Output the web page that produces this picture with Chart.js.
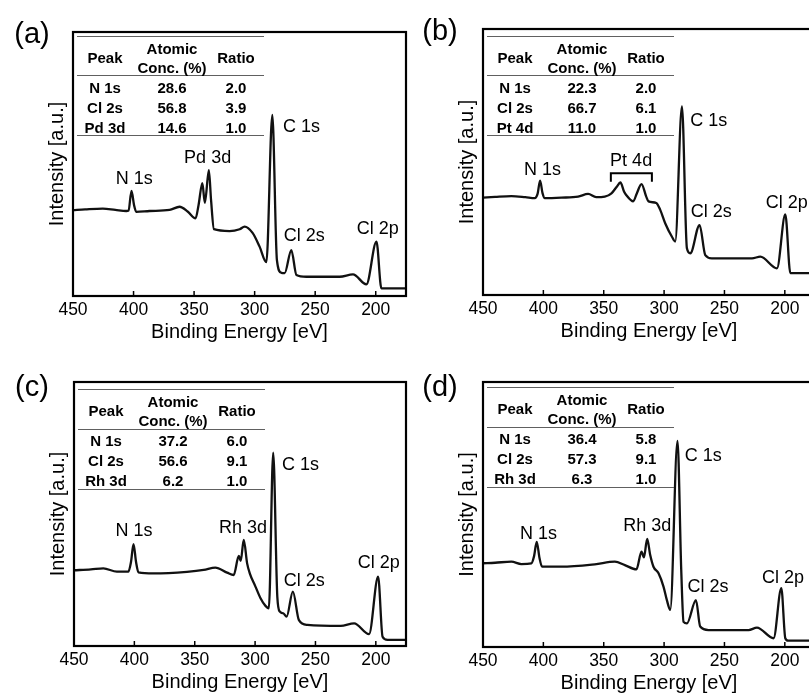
<!DOCTYPE html>
<html><head><meta charset="utf-8">
<script src="https://cdn.jsdelivr.net/npm/chart.js@4"></script>
<style>
html,body{margin:0;padding:0;background:#fff;overflow:hidden;width:809px;height:696px;}
body{position:relative;font-family:'Liberation Sans',Arial,sans-serif;color:#000;}
.panel{position:absolute;}
.lbl{position:absolute;font-size:29px;line-height:1;transform:translate(-50%,-50%);white-space:nowrap;}
.tline{position:absolute;height:0;border-top:1.5px solid #606060;}
.tt{position:absolute;font-weight:bold;font-size:15px;line-height:1;transform:translate(-50%,-50%);white-space:nowrap;}
.note{position:absolute;font-size:18px;line-height:1;transform:translate(-50%,-50%);white-space:nowrap;}
</style></head><body>
<script>
// ---------- data ----------
const xTickValues = [450, 400, 350, 300, 250, 200];

const energyA    = [450,440,425.4,415,406.0,404.1,401.7,399.6,397.8,386.8,370.2,362.0,355.1,348.8,346.3,343.2,341.1,337.8,336.0,333.6,320.7,312.4,308.3,301.7,295.9,290.3,285.4,281.6,277.9,275.2,269.7,265.5,257.3,229.7,218.8,207.7,199.4,195.3,177.4,175];
const intensityA = [32.5,32.8,33.1,32.6,32.2,32.4,39.8,34.5,31.9,32.2,32.6,33.8,31.9,29.4,34.5,42.7,35.3,47.7,36.4,25.3,24.6,25.3,26.3,23.9,18.7,12.8,68.6,13.6,8.8,8.7,17.4,8.0,7.3,7.3,8.2,4.4,20.6,2.9,2.9,2.9];

const energyB    = [450,440,426.5,415,407.1,404.8,402.7,400.7,398.8,385,371.2,362.9,356.3,349.1,343.6,339.2,336.2,333.1,331.4,325.6,322.6,318.7,314.8,312.9,306.5,303.2,299.1,293.5,290.8,285.2,281.1,278.3,270.6,265.9,260.4,227.2,220.3,206.5,199.6,195.4,180.3,175];
const intensityB = [36.6,36.9,37.2,36.8,36.4,38.0,43.0,38.3,36.4,36.6,37.0,38.0,36.8,37.0,38.2,40.7,42.3,38.8,37.6,35.2,38.2,41.7,37.0,35.2,34.6,32.0,27.0,21.9,20.1,70.9,17.6,15.7,26.3,15.0,13.8,13.8,14.4,10.0,30.3,8.2,8.2,8.2];

const energyC    = [450,436,425.7,414.5,404.9,402.8,400.7,398.6,396.6,384.1,356.4,342.6,332.9,323.2,317.7,313.5,311.9,309.4,306.6,304.4,299.7,295.5,291.4,288.6,285.0,281.6,279.5,276.7,273.9,268.7,263.7,256.7,229.1,218.0,205.6,198.1,194.4,190.3,176.5,175];
const intensityC = [28.7,29.0,29.4,28.2,28.2,31.8,38.6,31.8,27.9,27.5,28.1,28.8,29.7,27.8,26.9,34.1,32.3,40.2,31.3,27.5,22.5,18.1,15.2,14.3,73.2,18.7,13.0,12.4,11.1,20.6,9.8,8.0,7.6,8.6,4.5,26.3,3.5,2.3,2.3,2.3];

const energyD    = [450,440,426.5,418.2,409.9,407.7,405.5,403.2,401.1,385.1,357.4,340.8,332.5,322.9,318.7,316.7,314.0,311.5,308.8,304.6,300.5,297.7,294.9,288.9,285.8,283.9,281.1,273.6,270.1,263.2,230.0,223.1,209.3,202.9,199.6,197.3,180.3,175];
const intensityD = [31.6,31.8,32.2,31.3,31.6,34.3,39.7,33.6,30.3,30.3,31.2,32.2,30.9,29.3,36.0,33.8,40.8,34.7,30.3,27.8,22.8,17.7,14.0,77.8,29.1,9.5,8.9,17.7,7.7,6.4,6.4,7.3,3.3,22.2,3.3,2.4,2.4,2.4];

const peaksA = ['N 1s','Cl 2s','Pd 3d'], concA = ['28.6','56.8','14.6'], ratioA = ['2.0','3.9','1.0'];
const peaksB = ['N 1s','Cl 2s','Pt 4d'], concB = ['22.3','66.7','11.0'], ratioB = ['2.0','6.1','1.0'];
const peaksC = ['N 1s','Cl 2s','Rh 3d'], concC = ['37.2','56.6','6.2'],  ratioC = ['6.0','9.1','1.0'];
const peaksD = ['N 1s','Cl 2s','Rh 3d'], concD = ['36.4','57.3','6.3'],  ratioD = ['5.8','9.1','1.0'];

// peak labels: [text, energy, intensity]
const notesA = [['N 1s',399.4,44.7],['Pd 3d',338.8,52.7],['C 1s',261.2,64.4],['Cl 2s',259.1,23.1],['Cl 2p',198.3,25.8]];
const notesB = [['N 1s',400.7,47.4],['Pt 4d',327.3,50.8],['C 1s',263.0,65.8],['Cl 2s',260.9,31.6],['Cl 2p',198.3,35.1]];
const notesC = [['N 1s',400.2,43.9],['Rh 3d',310.0,45.0],['C 1s',262.3,68.8],['Cl 2s',259.2,25.0],['Cl 2p',197.5,31.9]];
const notesD = [['N 1s',404.1,43.1],['Rh 3d',314.0,46.0],['C 1s',267.6,72.5],['Cl 2s',263.6,23.1],['Cl 2p',201.4,26.3]];
// bracket over Pt 4d: [from eV, to eV, top intensity, end intensity]
const bracketB = [344.1, 310.1, 45.8, 42.6];

// ---------- layout ----------
const FAM = "'Liberation Sans', Arial, sans-serif";
const panels = [
  {name:'(a)', lx:32,  ly:33,  e:energyA, i:intensityA, notes:notesA, box:{l:73, t:32, r:406, b:296}, tab:{x:77, t:36.7, p:peaksA, c:concA, r:ratioA}},
  {name:'(b)', lx:440, ly:30,  e:energyB, i:intensityB, notes:notesB, box:{l:483,t:29, r:815, b:295}, tab:{x:487,t:36.7, p:peaksB, c:concB, r:ratioB}, bracket:bracketB},
  {name:'(c)', lx:32,  ly:385.5,e:energyC, i:intensityC, notes:notesC, box:{l:74, t:382,r:406, b:646}, tab:{x:78, t:390, p:peaksC, c:concC, r:ratioC}},
  {name:'(d)', lx:440, ly:385.5,e:energyD, i:intensityD, notes:notesD, box:{l:483,t:382,r:815, b:647}, tab:{x:487,t:388, p:peaksD, c:concD, r:ratioD}}
];

const framePlugin = {
  id: 'frame',
  afterDraw(chart, args, opts) {
    const {ctx, chartArea: a, scales: {x, y}} = chart;
    ctx.save();
    ctx.strokeStyle = '#000';
    ctx.lineWidth = 2.2;
    ctx.strokeRect(a.left, a.top, a.right - a.left, a.bottom - a.top);
    ctx.lineWidth = 1.5;
    x.ticks.forEach(t => {
      const px = x.getPixelForValue(t.value);
      ctx.beginPath(); ctx.moveTo(px, a.bottom); ctx.lineTo(px, a.bottom - 5); ctx.stroke();
    });
    if (opts.bracket) {
      const b = opts.bracket;
      const x1 = x.getPixelForValue(b[0]), x2 = x.getPixelForValue(b[1]);
      const yT = y.getPixelForValue(b[2]), yB = y.getPixelForValue(b[3]);
      ctx.lineWidth = 2;
      ctx.beginPath(); ctx.moveTo(x1, yB); ctx.lineTo(x1, yT); ctx.lineTo(x2, yT); ctx.lineTo(x2, yB); ctx.stroke();
    }
    ctx.restore();
  }
};

function cfg(p) {
  return {
    type: 'line',
    data: { datasets: [{
      data: p.e.map((v, k) => ({x: v, y: p.i[k]})),
      borderColor: '#111', borderWidth: 2.3, pointRadius: 0, fill: false,
      cubicInterpolationMode: 'monotone'
    }]},
    plugins: [framePlugin],
    options: {
      responsive: false, maintainAspectRatio: false, animation: false, events: [],
      layout: {padding: {top: 4, right: 4, left: 0, bottom: 0}},
      plugins: {legend: {display: false}, tooltip: {enabled: false}, frame: {bracket: p.bracket}},
      scales: {
        x: {type: 'linear', min: 175, max: 450, reverse: true,
            afterBuildTicks: s => { s.ticks = xTickValues.map(v => ({value: v})); },
            grid: {display: false, drawTicks: false}, border: {display: false},
            ticks: {font: {size: 17.5, family: FAM}, color: '#000', padding: 4, maxRotation: 0, autoSkip: false},
            title: {display: true, text: 'Binding Energy [eV]', font: {size: 20, family: FAM}, color: '#000', padding: {top: -5, bottom: 2}}},
        y: {type: 'linear', min: 0, max: 100,
            grid: {display: false, drawTicks: false}, border: {display: false},
            ticks: {display: false},
            title: {display: true, text: 'Intensity [a.u.]', font: {size: 20, family: FAM}, color: '#000', padding: {top: 4, bottom: 4}}}
      }
    }
  };
}

function addDiv(cls, text, x, y) {
  const d = document.createElement('div');
  d.className = cls; d.textContent = text;
  d.style.left = x + 'px'; d.style.top = y + 'px';
  document.body.appendChild(d);
  return d;
}
function addLine(x, y, w) {
  const d = document.createElement('div');
  d.className = 'tline';
  d.style.left = x + 'px'; d.style.top = (y - 0.75) + 'px'; d.style.width = w + 'px';
  document.body.appendChild(d);
}
function addTable(tb) {
  const W = 187, c1 = tb.x + 28, c2 = tb.x + 95, c3 = tb.x + 159, t = tb.t;
  addLine(tb.x, t, W); addLine(tb.x, t + 39.5, W); addLine(tb.x, t + 99.5, W);
  addDiv('tt', 'Peak', c1, t + 20);
  addDiv('tt', 'Atomic', c2, t + 11);
  addDiv('tt', 'Conc. (%)', c2, t + 30);
  addDiv('tt', 'Ratio', c3, t + 20);
  for (let k = 0; k < tb.p.length; k++) {
    const yy = t + 50 + 20 * k;
    addDiv('tt', tb.p[k], c1, yy);
    addDiv('tt', tb.c[k], c2, yy);
    addDiv('tt', tb.r[k], c3, yy);
  }
}

function build(p) {
  const wrap = document.createElement('div');
  wrap.className = 'panel';
  document.body.appendChild(wrap);
  const bw = p.box.r - p.box.l, bh = p.box.b - p.box.t;
  let w = bw + 50, h = bh + 70, chart;
  for (let k = 0; k < 4; k++) {
    if (chart) chart.destroy();
    wrap.innerHTML = '';
    const cv = document.createElement('canvas');
    cv.width = w; cv.height = h; cv.style.width = w + 'px'; cv.style.height = h + 'px';
    wrap.appendChild(cv);
    chart = new Chart(cv, cfg(p));
    const a = chart.chartArea;
    const dw = bw - (a.right - a.left), dh = bh - (a.bottom - a.top);
    if (Math.abs(dw) < 0.5 && Math.abs(dh) < 0.5) break;
    w = Math.round(w + dw); h = Math.round(h + dh);
  }
  const a = chart.chartArea;
  const ox = p.box.l - a.left, oy = p.box.t - a.top;
  wrap.style.left = ox + 'px'; wrap.style.top = oy + 'px';
  wrap.style.width = w + 'px'; wrap.style.height = h + 'px';
  addDiv('lbl', p.name, p.lx, p.ly);
  addTable(p.tab);
  p.notes.forEach(n => {
    addDiv('note', n[0], ox + chart.scales.x.getPixelForValue(n[1]), oy + chart.scales.y.getPixelForValue(n[2]));
  });
}
panels.forEach(build);
</script>
</body></html>
